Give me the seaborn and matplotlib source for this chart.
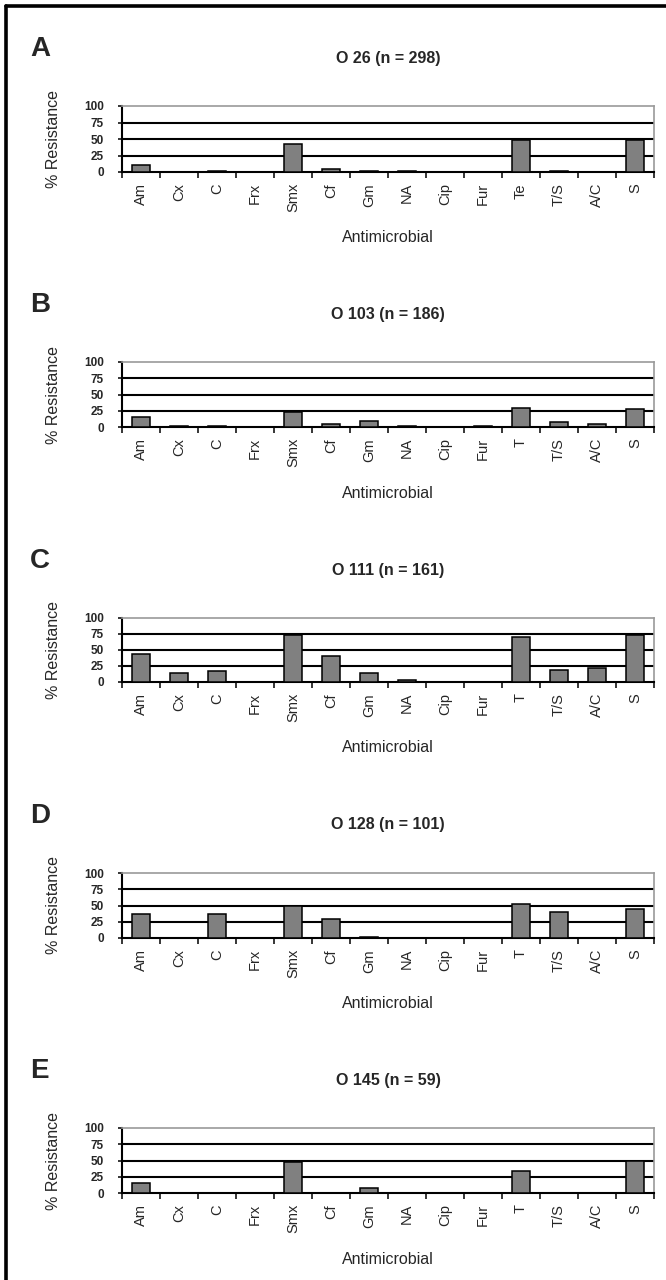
import matplotlib
matplotlib.use("Agg")
import numpy as np
import pandas as pd
import matplotlib.pyplot as plt
import seaborn as sns
from matplotlib.lines import Line2D

sns.set_style("white")
plt.rcParams['font.family'] = ['Liberation Sans', 'DejaVu Sans']

# ---------- data (% resistant isolates) ----------
drugs   = ["Am", "Cx", "C", "Frx", "Smx", "Cf", "Gm", "NA", "Cip", "Fur", "T", "T/S", "A/C", "S"]
drugs_a = ["Am", "Cx", "C", "Frx", "Smx", "Cf", "Gm", "NA", "Cip", "Fur", "Te", "T/S", "A/C", "S"]

o26  = [10, 0, 2, 0, 42, 5, 2, 2, 0, 0, 48, 2, 0, 48]
o103 = [15, 2, 2, 0, 23, 5, 10, 2, 0, 2, 30, 8, 5, 27]
o111 = [43, 14, 17, 0, 74, 41, 14, 3, 0, 0, 70, 19, 22, 74]
o128 = [37, 0, 37, 0, 49, 30, 2, 0, 0, 0, 52, 40, 0, 45]
o145 = [15, 0, 0, 0, 48, 0, 7, 0, 0, 0, 34, 0, 0, 49]

letters = ["A", "B", "C", "D", "E"]
titles  = ["O 26 (n = 298)", "O 103 (n = 186)", "O 111 (n = 161)",
           "O 128 (n = 101)", "O 145 (n = 59)"]
labels  = [drugs_a, drugs, drugs, drugs, drugs]
values  = [o26, o103, o111, o128, o145]
yticks  = [0, 25, 50, 75, 100]

# ---------- layout (pixels) ----------
W, H = 666, 1280
ax_left, ax_right = 122, 654
top_y  = [106, 362, 618, 873, 1128]
zero_y = [172, 427, 682, 938, 1193]

fig = plt.figure(figsize=(W / 100, H / 100), dpi=100)

for i in range(5):
    h = zero_y[i] - top_y[i]
    w = ax_right - ax_left
    ax = fig.add_axes([ax_left / W, 1 - zero_y[i] / H, w / W, h / H])
    df = pd.DataFrame({"drug": labels[i], "pct": values[i]})
    sns.barplot(data=df, x="drug", y="pct", ax=ax, color="#808080",
                saturation=1, edgecolor="black", linewidth=1.1, width=0.45,
                zorder=3)
    for v in (25, 50, 75):
        ax.axhline(v, color="black", lw=1.5, zorder=1)
    ax.set_xlim(-0.5, len(drugs) - 0.5)
    ax.set_ylim(0, 100)

    ax.set_yticks(yticks)
    ax.set_yticklabels([str(t) for t in yticks], fontsize=8.5, fontweight="bold")
    ax.tick_params(axis="y", direction="out", length=3, width=1.3, pad=10, left=True)

    ax.set_xticks(range(len(drugs)))
    ax.set_xticklabels(labels[i], rotation=90, fontsize=10.5)
    ax.set_xticks(np.arange(-0.5, len(drugs), 1), minor=True)
    ax.tick_params(axis="x", which="major", length=0, pad=8)
    ax.tick_params(axis="x", which="minor", direction="out", length=4,
                   width=1.3, bottom=True)

    for s in ("top", "right"):
        ax.spines[s].set_color("#9a9a9a")
        ax.spines[s].set_linewidth(1.2)
    for s in ("left", "bottom"):
        ax.spines[s].set_color("black")
        ax.spines[s].set_linewidth(1.5)

    ax.set_xlabel("Antimicrobial", fontsize=11.5, va="center")
    ax.xaxis.set_label_coords(0.5, -66 / h)
    ax.set_ylabel("% Resistance", fontsize=11.5, va="center")
    ax.yaxis.set_label_coords(-(ax_left - 53) / w, 0.5)

    fig.text(30 / W, 1 - (top_y[i] - 57) / H, letters[i], fontsize=20,
             fontweight="bold", ha="left", va="center")
    fig.text((ax_left + ax_right) / 2 / W, 1 - (top_y[i] - 48) / H, titles[i],
             fontsize=11.5, fontweight="bold", ha="center", va="center")

# outer frame (left and top edges)
fig.add_artist(Line2D([6 / W, 6 / W], [0, 1 - 6 / H], color="black", lw=2.6))
fig.add_artist(Line2D([6 / W, 1], [1 - 6 / H, 1 - 6 / H], color="black", lw=2.6))

fig.savefig("out.png", dpi=100, facecolor="white")
